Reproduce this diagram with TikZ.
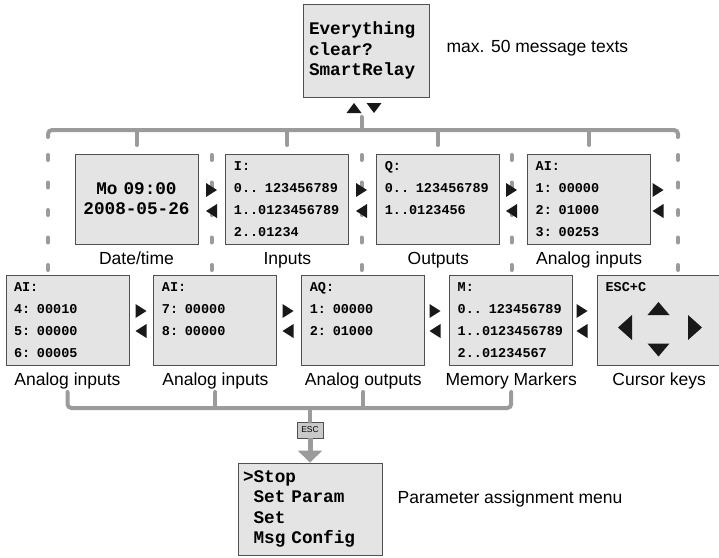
\documentclass[tikz,border=0pt]{standalone}
\usepackage{fontspec}
\setmainfont{Liberation Sans}
\setmonofont{Liberation Mono}
\usepackage{tikz}
\usetikzlibrary{positioning, arrows.meta}
\definecolor{busgray}{HTML}{9B9B9B}
\definecolor{lcdfill}{HTML}{E4E4E4}
\definecolor{lcdedge}{HTML}{505050}
\definecolor{keyfill}{HTML}{C9C9C9}
\tikzstyle{lcd} = [rectangle, draw=lcdedge, fill=lcdfill, line width=0.9pt, minimum width=123pt, minimum height=90pt, text width=107pt, inner xsep=8pt, inner ysep=0pt, align=left, font=\ttfamily\bfseries\fontsize{13.5}{22}\selectfont]
\tikzstyle{lcdbig} = [lcd, font=\ttfamily\bfseries\fontsize{17.7}{20.5}\selectfont]
\tikzstyle{caption} = [inner sep=0pt, text height=12.5pt, text depth=3.5pt, font=\fontsize{17.5}{20}\selectfont]
\tikzstyle{bus} = [line width=4pt, draw=busgray, line cap=round, rounded corners=4pt]
\tikzstyle{busdots} = [line width=4pt, draw=busgray, line cap=round, dash pattern=on 5pt off 22.5pt]
\tikzstyle{key} = [rectangle, draw=lcdedge, fill=keyfill, line width=0.8pt, minimum width=26pt, minimum height=16pt, inner sep=0pt, font=\fontsize{8.5}{9}\selectfont]
% filled triangle: position, angle, length, half base
\newcommand{\tri}[4]{\fill[black!90, shift={#1}, rotate=#2] (-#3/2,-#4) -- (#3/2,0) -- (-#3/2,#4) -- cycle;}

\begin{document}
\begin{tikzpicture}[x=1pt, y=-1pt]
    \useasboundingbox (0,0) rectangle (719,557);

    % message text display
    \node (msg) [lcdbig, minimum width=126pt, minimum height=93pt, text width=114pt, inner xsep=6pt] at (366,50.5) {Everything\\clear?\\SmartRelay};
    \node (maxlbl) [caption, right=17pt of msg, yshift=3pt] {max. 50 message texts};

    % first row
    \node (date) [lcd, align=center, font=\ttfamily\bfseries\fontsize{17.7}{20}\selectfont] at (136.5,199) {Mo 09:00\\2008-05-26};
    \node (inputs) [lcd, right=27pt of date] {I:\\0.. 123456789\\1..0123456789\\2..01234};
    \node (outputs) [lcd, right=27pt of inputs] {Q:\\0.. 123456789\\1..0123456\\\mbox{}};
    \node (ainp) [lcd, right=27pt of outputs] {AI:\\1: 00000\\2: 01000\\3: 00253};

    \node (datelbl) [caption, below=7pt of date] {Date/time};
    \node (inputslbl) [caption, below=7pt of inputs] {Inputs};
    \node (outputslbl) [caption, below=7pt of outputs] {Outputs};
    \node (ainplbl) [caption, below=7pt of ainp] {Analog inputs};

    % second row
    \node (ai4) [lcd] at (67.5,320) {AI:\\4: 00010\\5: 00000\\6: 00005};
    \node (ai7) [lcd, right=24pt of ai4] {AI:\\7: 00000\\8: 00000\\\mbox{}};
    \node (aq) [lcd, right=24pt of ai7] {AQ:\\1: 00000\\2: 01000\\\mbox{}};
    \node (mark) [lcd, right=24pt of aq] {M:\\0.. 123456789\\1..0123456789\\2..01234567};
    \node (cursor) [lcd, right=24pt of mark] {ESC+C\\\mbox{}\\\mbox{}\\\mbox{}};

    \node (ai4lbl) [caption, below=7pt of ai4] {Analog inputs};
    \node (ai7lbl) [caption, below=7pt of ai7] {Analog inputs};
    \node (aqlbl) [caption, below=7pt of aq] {Analog outputs};
    \node (marklbl) [caption, below=7pt of mark] {Memory Markers};
    \node (cursorlbl) [caption, below=7pt of cursor] {Cursor keys};

    % parameter menu
    \node (menu) [lcdbig, minimum width=144pt, minimum height=92pt, text width=134pt, inner xsep=5pt] at (310,509) {>Stop\\\phantom{>}Set Param\\\phantom{>}Set\\\phantom{>}Msg Config};
    \node (menulbl) [caption, right=15pt of menu, yshift=10pt] {Parameter assignment menu};
    \node (esc) [key] at (310,430) {ESC};

    % top bus
    \coordinate (busleft) at (48,130);
    \coordinate (busright) at (678,130);
    \coordinate (sep2) at (361.5,130);
    \draw [bus] (busleft) ++(0,7) -- (busleft) -- (busright) -- ++(0,7);
    \draw [bus] (date.north |- busleft) -- ++(0,15);
    \draw [bus] (inputs.north |- busleft) -- ++(0,15);
    \draw [bus] (outputs.north |- busleft) -- ++(0,15);
    \draw [bus] (ainp.north |- busleft) -- ++(0,15);
    \draw [bus] (sep2) -- ++(0,-13);
    \foreach \x in {48,211.5,361.5,511.5,678}
        \draw [busdots] (\x,155) -- (\x,275);

    % bottom bus
    \coordinate (botstub) at (0,392);
    \coordinate (botbus) at (0,408);
    \draw [bus] (ai4.south |- botstub) -- (ai4.south |- botbus) -- (mark.south |- botbus) -- (mark.south |- botstub);
    \draw [bus] (ai7.south |- botstub) -- (ai7.south |- botbus);
    \draw [bus] (aq.south |- botstub) -- (aq.south |- botbus);
    \draw [bus] (esc.north |- botbus) -- (esc.north);
    \draw [line width=5pt, draw=busgray, -{Triangle[width=24pt, length=12pt]}] (esc.south) -- (menu.north);

    % scroll arrows
    \tri{(354,108)}{90}{10}{7.5}
    \tri{(374,108)}{-90}{10}{7.5}
    \foreach \x in {211.5,361.5,511.5,658} {
        \tri{(\x,190)}{0}{11}{7}
        \tri{(\x,211)}{180}{11}{7}
    }
    \foreach \x in {141,288,435,582} {
        \tri{(\x,311)}{0}{11}{7}
        \tri{(\x,331)}{180}{11}{7}
    }

    % cursor keys
    \tri{(658.5,308.5)}{90}{13}{11}
    \tri{(658.5,350)}{-90}{13}{11}
    \tri{(625,327.5)}{180}{14}{12.5}
    \tri{(695,327.5)}{0}{14}{12.5}
\end{tikzpicture}
\end{document}
